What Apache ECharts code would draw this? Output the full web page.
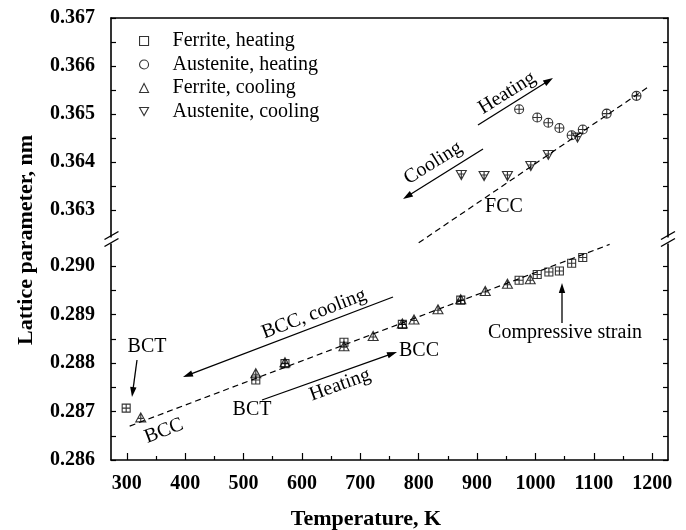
<!DOCTYPE html>
<html>
<head>
<meta charset="utf-8">
<script src="https://cdn.jsdelivr.net/npm/echarts@6/dist/echarts.min.js"></script>
<style>
html,body{margin:0;padding:0;background:#fff;}
#chart{width:686px;height:530px;}
</style>
</head>
<body>
<div id="chart"></div>
<script>
// ---- data ----
const ferriteHeatingT = [299, 521, 571, 672, 772, 872, 972, 1003, 1023, 1041, 1062, 1081];
const ferriteHeatingV = [0.28707, 0.28765, 0.28799, 0.28843, 0.28880, 0.28930, 0.28971, 0.28983, 0.28988, 0.28990, 0.29006, 0.29018];
const ferriteCoolingT = [324, 521, 571, 672, 722, 772, 792, 833, 872, 914, 952, 991];
const ferriteCoolingV = [0.28688, 0.28779, 0.28802, 0.28835, 0.28856, 0.28882, 0.28890, 0.28911, 0.28932, 0.28949, 0.28964, 0.28973];
const austeniteHeatingT = [972, 1003, 1022, 1041, 1062, 1081, 1122, 1173];
const austeniteHeatingV = [0.36510, 0.36493, 0.36482, 0.36471, 0.36456, 0.36468, 0.36501, 0.36538];
const austeniteCoolingT = [873, 912, 952, 992, 1022, 1072];
const austeniteCoolingV = [0.36373, 0.36371, 0.36371, 0.36392, 0.36415, 0.36451];
const bccFitT = [305, 1127];
const bccFitV = [0.28670, 0.29045];
const fccFitT = [800, 1195];
const fccFitV = [0.36232, 0.36558];

const xMajorTicks = [300, 400, 500, 600, 700, 800, 900, 1000, 1100, 1200];
const xMinorTicks = [350, 450, 550, 650, 750, 850, 950, 1050, 1150];
const upperMajorTicks = [0.363, 0.364, 0.365, 0.366, 0.367];
const upperMinorTicks = [0.3635, 0.3645, 0.3655, 0.3665];
const lowerMajorTicks = [0.286, 0.287, 0.288, 0.289, 0.290];
const lowerMinorTicks = [0.2865, 0.2875, 0.2885, 0.2895];

const legendNames = ['Ferrite, heating', 'Austenite, heating', 'Ferrite, cooling', 'Austenite, cooling'];

// ---- helpers ----
const FONT = 'Liberation Serif';
const zip = (a, b) => a.map((v, i) => [v, b[i]]);

const SYM_SQ = 'path://M0,0L10,0L10,10L0,10Z M5,0L5,10 M0,5L10,5';
const SYM_CI = 'path://M0,5A5,5,0,1,1,10,5A5,5,0,1,1,0,5Z M5,0L5,10 M0,5L10,5';
const SYM_TU = 'path://M5,0L10,9L0,9Z M5,0L5,9 M2.5,5.5L7.5,5.5';
const SYM_TD = 'path://M0,0L10,0L5,9Z M5,0L5,9 M2.5,3.5L7.5,3.5';

const markerStyle = {color: 'rgba(0,0,0,0)', borderColor: '#000', borderWidth: 1.1};

const chart = echarts.init(document.getElementById('chart'), null, {renderer: 'canvas'});

const GRID_L = 111, GRID_R = 18;
const xMin = 273, xMax = 1227;

function yAx(grid, min, max, major, minor, pos, showLabel) {
  return {
    type: 'value', gridIndex: grid, position: pos, min: min, max: max, scale: true,
    axisLine: {show: true, onZero: false, lineStyle: {color: '#000', width: 1.6}},
    axisTick: {show: true, inside: true, length: 5, lineStyle: {color: '#000', width: 1.2}, customValues: major.concat(minor)},
    axisLabel: {show: showLabel, customValues: major, margin: 16, color: '#000',
      fontFamily: FONT, fontWeight: 'bold', fontSize: 20,
      formatter: v => Number(v).toFixed(3)},
    splitLine: {show: false}
  };
}

const option = {
  backgroundColor: '#fff',
  animation: false,
  grid: [
    {left: GRID_L, right: GRID_R, top: 18, height: 221},
    {left: GRID_L, right: GRID_R, top: 242, height: 218}
  ],
  xAxis: [
    {type: 'value', gridIndex: 0, position: 'top', min: xMin, max: xMax,
      axisLine: {show: true, onZero: false, lineStyle: {color: '#000', width: 1.6}},
      axisTick: {show: false}, axisLabel: {show: false}, splitLine: {show: false}},
    {type: 'value', gridIndex: 1, position: 'bottom', min: xMin, max: xMax,
      axisLine: {show: true, onZero: false, lineStyle: {color: '#000', width: 1.6}},
      axisTick: {show: true, inside: true, length: 7, lineStyle: {color: '#000', width: 1.2}, customValues: xMajorTicks},
      axisLabel: {show: true, customValues: xMajorTicks, margin: 14, color: '#000',
        fontFamily: FONT, fontWeight: 'bold', fontSize: 20, formatter: v => String(Math.round(v))},
      splitLine: {show: false}},
    {type: 'value', gridIndex: 1, position: 'bottom', min: xMin, max: xMax,
      axisLine: {show: false},
      axisTick: {show: true, inside: true, length: 4, lineStyle: {color: '#000', width: 1.2}, customValues: xMinorTicks},
      axisLabel: {show: false}, splitLine: {show: false}}
  ],
  yAxis: [
    yAx(0, 0.3624, 0.367, upperMajorTicks, upperMinorTicks, 'left', true),
    yAx(0, 0.3624, 0.367, upperMajorTicks, upperMinorTicks, 'right', false),
    yAx(1, 0.286, 0.2905, lowerMajorTicks, lowerMinorTicks, 'left', true),
    yAx(1, 0.286, 0.2905, lowerMajorTicks, lowerMinorTicks, 'right', false)
  ],
  legend: {
    orient: 'vertical', left: 139, top: 31, padding: 0,
    itemWidth: 9, itemHeight: 9, itemGap: 3.5,
    selectedMode: false,
    data: [
      {name: legendNames[0], icon: 'rect'},
      {name: legendNames[1], icon: 'circle'},
      {name: legendNames[2], icon: 'triangle'},
      {name: legendNames[3], icon: 'path://M0,0L10,0L5,9Z'}
    ],
    itemStyle: {color: 'rgba(0,0,0,0)', borderColor: '#000', borderWidth: 1.1},
    textStyle: {fontFamily: FONT, fontSize: 20, color: '#000', lineHeight: 20, padding: [0, 0, 0, 19]}
  },
  series: [
    {name: 'BCC fit', type: 'line', xAxisIndex: 1, yAxisIndex: 2, data: zip(bccFitT, bccFitV),
      symbol: 'none', clip: false, lineStyle: {color: '#000', width: 1.2, type: [6, 4]}, z: 1},
    {name: 'FCC fit', type: 'line', xAxisIndex: 0, yAxisIndex: 0, data: zip(fccFitT, fccFitV),
      symbol: 'none', clip: false, lineStyle: {color: '#000', width: 1.2, type: [6, 4]}, z: 1},
    {name: legendNames[0], type: 'scatter', xAxisIndex: 1, yAxisIndex: 2, data: zip(ferriteHeatingT, ferriteHeatingV),
      symbol: SYM_SQ, symbolSize: 8, itemStyle: markerStyle, z: 3},
    {name: legendNames[1], type: 'scatter', xAxisIndex: 0, yAxisIndex: 0, data: zip(austeniteHeatingT, austeniteHeatingV),
      symbol: SYM_CI, symbolSize: 9, itemStyle: markerStyle, z: 3},
    {name: legendNames[2], type: 'scatter', xAxisIndex: 1, yAxisIndex: 2, data: zip(ferriteCoolingT, ferriteCoolingV),
      symbol: SYM_TU, symbolSize: [10, 9], itemStyle: markerStyle, z: 3},
    {name: legendNames[3], type: 'scatter', xAxisIndex: 0, yAxisIndex: 0, data: zip(austeniteCoolingT, austeniteCoolingV),
      symbol: SYM_TD, symbolSize: [10, 9], itemStyle: markerStyle, z: 3}
  ]
};
chart.setOption(option);

// ---- annotations (layout) ----
function txt(s, x, y, deg, opts) {
  opts = opts || {};
  return {type: 'text', x: x, y: y, rotation: (deg || 0) * Math.PI / 180, z: 10,
    style: {text: s, fill: '#000', font: (opts.bold ? 'bold ' : '') + (opts.size || 20) + 'px "' + FONT + '"',
      align: 'center', verticalAlign: 'middle'}};
}
function arrow(x1, y1, x2, y2) {
  const dx = x2 - x1, dy = y2 - y1, L = Math.hypot(dx, dy);
  const ux = dx / L, uy = dy / L, hl = 10, hw = 3.2;
  const bx = x2 - ux * hl, by = y2 - uy * hl;
  return [
    {type: 'line', z: 10, shape: {x1: x1, y1: y1, x2: bx + ux * 2, y2: by + uy * 2}, style: {stroke: '#000', lineWidth: 1.3}},
    {type: 'polygon', z: 10, shape: {points: [[x2, y2], [bx - uy * hw, by + ux * hw], [bx + uy * hw, by - ux * hw]]}, style: {fill: '#000'}}
  ];
}
function breakMark(x, y) {
  return [
    {type: 'rect', z: 9, shape: {x: x - 4, y: y - 3, width: 8, height: 6}, style: {fill: '#fff'}},
    {type: 'line', z: 10, shape: {x1: x - 7, y1: y - 1, x2: x + 7, y2: y - 9}, style: {stroke: '#000', lineWidth: 1.4}},
    {type: 'line', z: 10, shape: {x1: x - 7, y1: y + 6, x2: x + 7, y2: y - 2}, style: {stroke: '#000', lineWidth: 1.4}}
  ];
}
const g = [].concat(
  [txt('BCT', 147, 347), txt('BCC', 164, 431, 21), txt('BCC, cooling', 314, 314, 21),
   txt('BCT', 252, 410), txt('Heating', 340, 385, 20), txt('BCC', 419, 351),
   txt('Compressive strain', 565, 333), txt('FCC', 504, 207),
   txt('Heating', 507, 93, 32), txt('Cooling', 433, 163, 32),
   txt('Temperature, K', 366, 519, 0, {bold: true, size: 22}),
   txt('Lattice parameter, nm', 26, 240, 90, {bold: true, size: 22})],
  arrow(137, 360, 132, 397), arrow(393, 297, 183, 377), arrow(262, 400, 397, 352),
  arrow(562, 323, 562, 283), arrow(478, 125, 553, 78), arrow(483, 149, 403, 199),
  breakMark(111.5, 240.5), breakMark(668, 240.5)
);
chart.setOption({graphic: g});
</script>
</body>
</html>
